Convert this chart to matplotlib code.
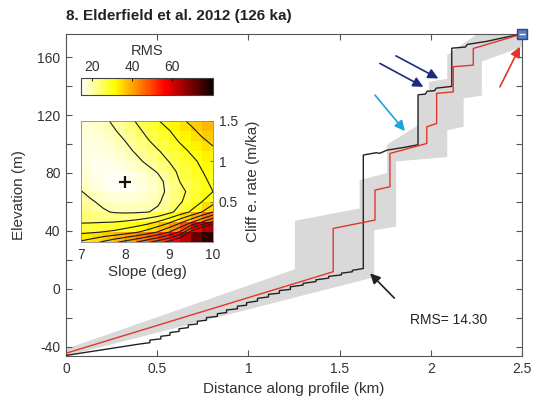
import numpy as np
import matplotlib
matplotlib.use('Agg')
from matplotlib import pyplot as plt
from matplotlib.colors import Normalize

plt.rcParams['font.family'] = ['Liberation Sans', 'DejaVu Sans']

# modelled profile (red) and observed profile (black), km / m
red_x = [0, 1.465, 1.465, 1.694, 1.694, 1.776, 1.776, 1.978, 1.978, 2.032, 2.032,
         2.123, 2.123, 2.233, 2.233, 2.5]
red_y = [-44.5, 11.8, 41.7, 47.5, 68.2, 70.5, 93.5, 100.4, 111.9, 114.2, 135,
         136, 153.4, 154.5, 166, 176]

black_x = [0, 0.41, 0.46, 0.46, 0.52, 0.52, 0.57, 0.57, 0.62, 0.62, 0.67, 0.67,
           0.72, 0.72, 0.77, 0.77, 0.83, 0.83, 0.88, 0.88, 0.94, 0.94, 0.99, 0.99,
           1.05, 1.05, 1.11, 1.11, 1.17, 1.17, 1.23, 1.23, 1.30, 1.30, 1.37, 1.37,
           1.44, 1.44, 1.51, 1.51, 1.57, 1.57, 1.63, 1.63, 1.70, 1.72, 1.76, 1.80,
           1.86, 1.93, 1.93, 1.97, 1.98, 2.02, 2.03, 2.115, 2.115, 2.19, 2.20, 2.31,
           2.40, 2.5]
black_y = [-46, -38.0, -37.2, -35.4, -34.6, -32.8, -32.0, -30.2, -29.4, -27.6, -26.8, -25.0,
           -24.3, -22.4, -21.7, -19.9, -19.0, -17.2, -16.4, -14.6, -13.8, -12.0, -11.3, -9.6,
           -8.4, -6.6, -5.6, -3.8, -3.0, -1.2, -0.4, 1.4, 2.6, 3.8, 5.0, 6.2,
           7.4, 8.6, 9.6, 10.8, 11.8, 12.8, 14.0, 92.4, 94.0, 93.6, 95.8, 96.6,
           97.8, 99.5, 134.0, 134.5, 136.5, 136.8, 138.6, 139.8, 166.2, 167.0, 168.8, 171.0,
           173.5, 176]

# uncertainty envelope outline
band_x = [0, 1.255, 1.255, 1.61, 1.61, 1.76, 1.76, 1.93, 1.93, 1.99, 1.99, 2.09, 2.09,
          2.22, 2.30, 2.5, 2.5, 2.28, 2.28, 2.18, 2.18, 2.09, 2.09, 1.81, 1.81, 1.69,
          1.69, 0]
band_y = [-41.5, 13.5, 47, 55.5, 75, 80, 99.5, 113, 133, 136, 143, 145, 161.5,
          173, 180, 180, 167, 157, 133.5, 131.5, 112, 109.5, 91, 88, 43, 40.5,
          8, -46.4]

# RMS misfit grid: rows = cliff erosion rate, cols = slope
slope = [7, 7.25, 7.5, 7.75, 8, 8.25, 8.5, 8.75, 9, 9.25, 9.5, 9.75, 10]
rate = [0, 0.125, 0.25, 0.375, 0.5, 0.625, 0.75, 0.875, 1.0, 1.125, 1.25, 1.375, 1.5]
rms = [
    [36.0, 38.0, 41.0, 44.0, 47.0, 50.0, 54.0, 58.0, 62.0, 67.0, 73.0, 79.0, 80.5],
    [29.0, 29.5, 30.2, 31.0, 32.5, 34.5, 37.0, 40.5, 45.0, 51.0, 62.0, 70.0, 78.0],
    [24.5, 24.6, 24.8, 25.0, 25.6, 26.5, 28.0, 30.5, 34.0, 38.5, 44.0, 50.0, 56.0],
    [22.7, 21.8, 20.6, 19.6, 19.3, 19.4, 19.8, 20.7, 23.5, 27.0, 30.5, 35.0, 40.0],
    [21.5, 20.4, 19.0, 18.0, 17.6, 17.8, 18.4, 19.5, 21.6, 24.4, 27.4, 30.0, 33.0],
    [20.2, 18.5, 16.8, 15.8, 15.6, 16.2, 17.3, 18.8, 20.8, 23.6, 26.3, 28.4, 30.0],
    [18.5, 16.8, 15.4, 14.6, 14.3, 15.4, 16.8, 18.6, 21.5, 25.1, 27.6, 29.3, 30.6],
    [17.4, 16.2, 15.3, 15.2, 15.8, 17.0, 18.6, 20.4, 23.2, 26.0, 28.2, 29.9, 31.3],
    [16.8, 16.0, 15.7, 16.2, 17.4, 18.9, 20.8, 22.9, 25.1, 27.1, 29.0, 30.8, 32.5],
    [16.6, 16.2, 16.3, 17.2, 18.7, 20.5, 22.6, 24.7, 26.5, 28.6, 30.5, 32.3, 34.0],
    [16.6, 16.4, 17.0, 18.4, 20.0, 22.0, 24.5, 26.6, 28.3, 30.4, 32.3, 34.2, 36.0],
    [16.8, 17.0, 18.0, 19.6, 21.5, 23.8, 26.0, 28.0, 29.8, 31.8, 34.0, 36.2, 38.0],
    [17.0, 17.8, 19.0, 20.8, 23.0, 25.3, 27.5, 29.8, 31.8, 34.0, 36.0, 38.0, 40.0],
]
contour_levels = [20, 25, 30, 35, 40, 45, 50, 55, 60]

W, H = 536, 405
fig = plt.figure(figsize=(W / 100, H / 100), dpi=100)

ax = fig.add_axes([66 / W, 1 - 356 / H, 456 / W, 322 / H])
ax.fill(band_x, band_y, color='#d9d9d9', lw=0, zorder=1)
ax.plot(black_x, black_y, color='#222222', lw=1.0, zorder=3)
ax.plot(red_x, red_y, color='#e3352b', lw=1.0, zorder=4)
ax.plot(red_x[-1], red_y[-1], marker='s', ms=7, mfc='#5a7cc0', mec='#27469a',
        clip_on=False, zorder=6)
ax.plot(red_x[-1], red_y[-1], marker='_', ms=4, mew=1, color='white',
        clip_on=False, zorder=7)

arrows = [((1.80, -6.4), (1.667, 10.7), '#222222'),
          ((1.809, 160.9), (2.041, 145.3), '#1e2a7e'),
          ((1.721, 155.7), (1.959, 139.5), '#1e2a7e'),
          ((1.694, 133.8), (1.858, 109.0), '#1aa3dd'),
          ((2.379, 139.5), (2.489, 167.2), '#e3352b')]
for tail, head, c in arrows:
    ax.annotate('', xy=head, xytext=tail,
                arrowprops=dict(arrowstyle='-|>', color=c, lw=1.2,
                                mutation_scale=15, shrinkA=0, shrinkB=0))
ax.text(1.886, -21.5, 'RMS= 14.30', fontsize=10, color='#222222',
        ha='left', va='center')

ax.set_xlim(0, 2.5)
ax.set_ylim(-46.4, 176)
ax.set_xticks([0, 0.5, 1, 1.5, 2, 2.5])
ax.set_xticklabels(['0', '0.5', '1', '1.5', '2', '2.5'])
yt = list(range(-40, 161, 20))
ax.set_yticks(yt)
ax.set_yticklabels([str(v) if v % 40 == 0 else '' for v in yt])
ax.tick_params(direction='in', top=True, right=True, length=4, width=0.8,
               color='#555555', labelcolor='#333333', labelsize=10, pad=4)
for sp in ax.spines.values():
    sp.set_color('#555555')
    sp.set_linewidth(0.8)
ax.set_xlabel('Distance along profile (km)', fontsize=11, color='#333333', labelpad=5)
ax.set_ylabel('Elevation (m)', fontsize=11, color='#333333', labelpad=8)

fig.text(66 / W, 1 - 16 / H, '8. Elderfield et al. 2012 (126 ka)', fontsize=11,
         fontweight='bold', color='#222222', ha='left', va='center')

# inset: RMS misfit map
z = np.array(rms)
sx = np.array(slope)
ry = np.array(rate)
cells = 0.25 * (z[:-1, :-1] + z[1:, :-1] + z[:-1, 1:] + z[1:, 1:])
norm = Normalize(vmin=z.min(), vmax=z.max())

axi = fig.add_axes([81 / W, 1 - 242.3 / H, 132 / W, 121.6 / H])
mesh = axi.pcolormesh(sx, ry, cells, cmap='hot_r', norm=norm, shading='flat')
axi.contour(sx, ry, z, levels=contour_levels, colors='#1a1a1a', linewidths=0.8)
iy, ix = np.unravel_index(np.argmin(z), z.shape)
axi.plot(sx[ix], ry[iy], marker='+', ms=8, mew=1.6, color='#111111')
axi.set_xlim(7, 10)
axi.set_ylim(0, 1.5)
axi.set_xticks([7, 8, 9, 10])
axi.set_yticks([0.5, 1, 1.5])
axi.set_yticklabels(['0.5', '1', '1.5'])
axi.yaxis.tick_right()
axi.yaxis.set_label_position('right')
axi.tick_params(direction='in', length=2, width=0.6, color='#555555',
                labelcolor='#333333', labelsize=10, pad=4)
for sp in axi.spines.values():
    sp.set_linewidth(0.6)
    sp.set_color('#888888')
axi.set_xlabel('Slope (deg)', fontsize=11, color='#333333', labelpad=2)
axi.set_ylabel('Cliff e. rate (m/ka)', fontsize=11, color='#333333', labelpad=6)

cax = fig.add_axes([81 / W, 1 - 95 / H, 132 / W, 17.3 / H])
cb = fig.colorbar(mesh, cax=cax, orientation='horizontal')
cb.set_ticks([20, 40, 60])
cax.xaxis.set_ticks_position('top')
cax.xaxis.set_label_position('top')
cax.tick_params(direction='in', length=2, width=0.6, labelsize=10,
                labelcolor='#333333', pad=3)
cb.outline.set_linewidth(0.8)
cb.outline.set_edgecolor('#444444')
cb.set_label('RMS', fontsize=10.5, color='#333333', labelpad=3)

fig.savefig('out.png', dpi=100)
